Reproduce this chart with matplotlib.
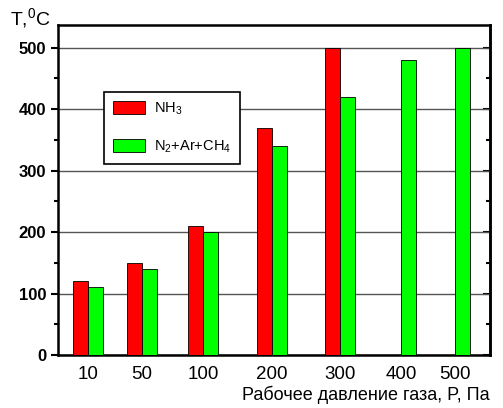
import numpy as np
import matplotlib.pyplot as plt

plt.rcParams['font.family'] = ['Liberation Sans', 'DejaVu Sans']
plt.rcParams['mathtext.fontset'] = 'custom'
plt.rcParams['mathtext.rm'] = 'Liberation Sans'
plt.rcParams['mathtext.it'] = 'Liberation Sans'
plt.rcParams['mathtext.default'] = 'rm'

pressure = ['10', '50', '100', '200', '300', '400', '500']
t_nh3 = [120, 150, 210, 370, 500, np.nan, np.nan]
t_mix = [110, 140, 200, 340, 420, 480, 500]

# uneven group placement as in the original
pos = np.array([88, 142, 203, 272, 340, 401, 455])
w = 15

fig = plt.figure(figsize=(5.03, 4.08), dpi=100)
ax = fig.add_axes([58/503, 53/408, 432/503, 330/408])

ax.bar(pos - w, t_nh3, width=w, align='edge', color='#ff0000',
       edgecolor='black', linewidth=0.6, label='NH$_3$', zorder=3)
ax.bar(pos, t_mix, width=w, align='edge', color='#00ff00',
       edgecolor='black', linewidth=0.6, label='N$_2$+Ar+CH$_4$', zorder=3)

ax.set_xlim(58, 490)
ax.set_ylim(0, 537)
ax.set_xticks(pos)
ax.set_xticklabels(pressure, fontsize=13.5)
ax.tick_params(axis='x', length=0, pad=8)
ax.set_yticks(np.arange(0, 501, 100))
ax.set_yticks(np.arange(50, 501, 100), minor=True)
ax.tick_params(axis='y', which='major', direction='out', length=5, width=1.5,
               labelsize=12)
ax.tick_params(axis='y', which='minor', direction='out', length=3, width=1.5)
# inward ticks on the right axis
ay = ax.secondary_yaxis('right')
ay.set_yticks(np.arange(0, 501, 100))
ay.set_yticks(np.arange(50, 501, 100), minor=True)
ay.tick_params(which='major', direction='in', length=5, width=1.5, labelright=False)
ay.tick_params(which='minor', direction='in', length=3, width=1.5)
ay.spines['right'].set_linewidth(1.8)
for lbl in ax.get_yticklabels():
    lbl.set_fontweight('bold')
ax.yaxis.grid(True, color='#555555', linewidth=1, zorder=0)
for s in ax.spines.values():
    s.set_linewidth(1.8)

ax.legend(loc='upper left', bbox_to_anchor=(0.09, 0.82), fontsize=10.5,
          frameon=True, fancybox=False, edgecolor='black', framealpha=1,
          labelspacing=1.5, handlelength=2.2, handleheight=1.0,
          borderpad=0.6, handletextpad=0.6).get_frame().set_linewidth(1.2)

fig.text(10/503, 1 - 18/408, 'T,$^0$C', fontsize=14, va='center', ha='left')
fig.text(490/503, 1 - 395/408, 'Рабочее давление газа, P, Па', fontsize=13,
         ha='right', va='center')

fig.savefig('out.png', dpi=100)
